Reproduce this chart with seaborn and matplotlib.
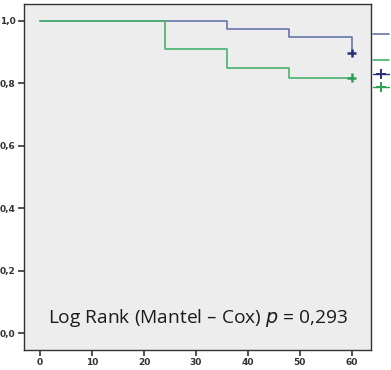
import matplotlib
matplotlib.use("Agg")
import matplotlib.pyplot as plt
from matplotlib.lines import Line2D
import seaborn as sns
import pandas as pd

# Kaplan-Meier step data
blue_time = [0, 36, 48, 60]
blue_surv = [1.0, 0.974, 0.949, 0.897]
green_time = [0, 24, 36, 48, 60]
green_surv = [1.0, 0.909, 0.848, 0.818, 0.818]
cens_time = [60, 60]
cens_surv = [0.897, 0.818]
cens_group = ["1", "2"]

y_ticks = [0.0, 0.2, 0.4, 0.6, 0.8, 1.0]
y_labels = ["0,0", "0,2", "0,4", "0,6", "0,8", "1,0"]
x_ticks = [0, 10, 20, 30, 40, 50, 60]
annot = "Log Rank (Mantel – Cox) $\\it{p}$ = 0,293"

blue_c = "#6674aa"
green_c = "#49b36e"
blue_m = "#27307a"
green_m = "#2f9e57"

sns.set_style("ticks")
plt.rcParams['font.family'] = ['DejaVu Sans']

fig = plt.figure(figsize=(3.91, 3.70), dpi=100)
ax = fig.add_axes([24 / 391, 20 / 370, 347 / 391, 346 / 370])
ax.set_facecolor("#ededed")

df_b = pd.DataFrame({"t": blue_time, "s": blue_surv})
df_g = pd.DataFrame({"t": green_time, "s": green_surv})
sns.lineplot(data=df_b, x="t", y="s", ax=ax, color=blue_c, lw=1.2,
             drawstyle="steps-post", estimator=None)
sns.lineplot(data=df_g, x="t", y="s", ax=ax, color=green_c, lw=1.2,
             drawstyle="steps-post", estimator=None)
df_c = pd.DataFrame({"t": cens_time, "s": cens_surv, "g": cens_group})
sns.scatterplot(data=df_c, x="t", y="s", hue="g", palette=[blue_m, green_m],
                marker="+", s=40, linewidth=1.8, ax=ax, legend=False, zorder=5)

ax.set_xlim(-3.1, 63.7)
ax.set_ylim(-0.054, 1.054)
ax.set_xticks(x_ticks)
ax.set_xticklabels([str(v) for v in x_ticks])
ax.set_yticks(y_ticks)
ax.set_yticklabels(y_labels)
ax.set_xlabel("")
ax.set_ylabel("")
ax.tick_params(axis="both", length=4, width=1.2, labelsize=6.5,
               colors="#333333", pad=2)
for lab in ax.get_xticklabels() + ax.get_yticklabels():
    lab.set_fontweight("bold")
for sp in ax.spines.values():
    sp.set_visible(True)
    sp.set_color("#333333")
    sp.set_linewidth(1.0)

ax.text(0.5, 0.062, annot, transform=ax.transAxes, ha="center", va="bottom",
        fontsize=13.8, color="#1a1a1a", family=["Open Sans", "DejaVu Sans"])

# legend symbols only, its labels lie beyond the right edge in the source
handles = [Line2D([], [], color=blue_c, lw=1.2),
           Line2D([], [], color="none"),
           Line2D([], [], color=green_c, lw=1.2),
           Line2D([], [], color=blue_m, marker="+", ms=7, mew=1.4, lw=1.0),
           Line2D([], [], color=green_m, marker="+", ms=7, mew=1.4, lw=1.0)]
labels = ["", "", "", "", ""]
fig.legend(handles, labels, loc="upper left", bbox_to_anchor=(373 / 391, 1 - 29 / 370),
           frameon=False, handlelength=1.6, handletextpad=0.0, labelspacing=0.35,
           fontsize=7, borderpad=0, borderaxespad=0)

fig.savefig("out.png", dpi=100)
